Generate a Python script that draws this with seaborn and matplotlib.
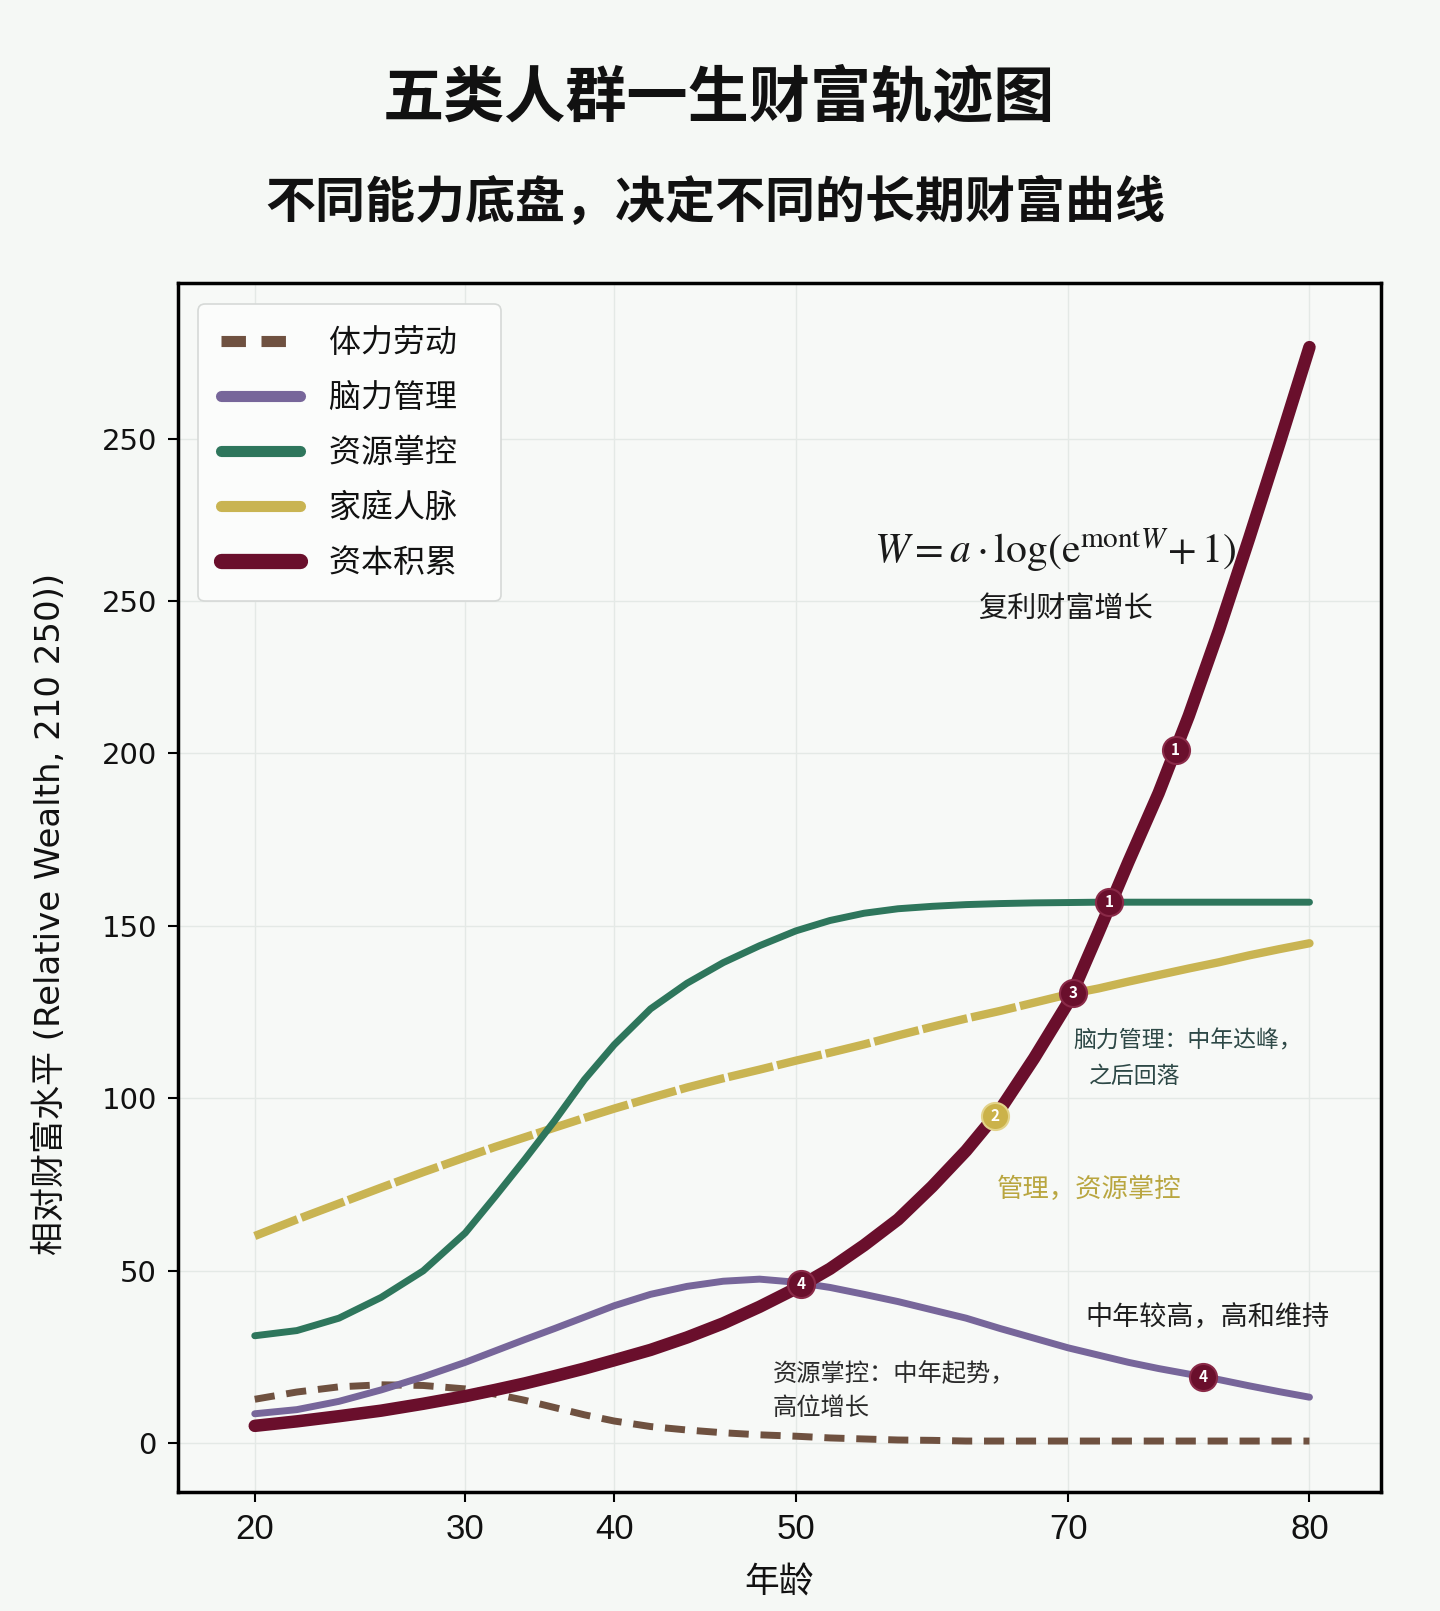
import numpy as np
import pandas as pd
import matplotlib.pyplot as plt
from matplotlib.lines import Line2D
import seaborn as sns

# ---- data ----
ages = [20, 22, 24, 26, 28, 30, 32, 34, 36, 38, 40, 42, 44, 46, 48, 50,
        52.5, 55, 57.5, 60, 62.5, 65, 67.5, 70,
        71.25, 72.5, 73.75, 75, 76.25, 77.5, 78.75, 80]
physical = [12.8, 14.9, 16.4, 17.0, 16.8, 15.8, 14.3, 12.5, 10.4, 8.3, 6.5, 4.9, 3.9, 3.1, 2.5, 2.1,
            1.6, 1.3, 1.0, 0.9, 0.7, 0.7, 0.7, 0.7,
            0.7, 0.7, 0.7, 0.7, 0.7, 0.7, 0.7, 0.7]
mental = [8.6, 9.8, 12.2, 15.5, 19.3, 23.5, 26.8, 30.1, 33.3, 36.6, 39.9, 43.2, 45.5, 47.0, 47.6, 46.7,
          45.2, 43.2, 41.1, 38.7, 36.3, 33.3, 30.5, 27.7,
          25.6, 23.5, 21.7, 20.1, 18.5, 16.7, 15.0, 13.4]
resource = [31.2, 32.7, 36.3, 42.3, 50.0, 61.0, 71.5, 82.3, 93.5, 105.4, 115.5, 125.9, 133.3, 139.3, 144.2, 148.5,
            151.5, 153.6, 154.9, 155.6, 156.1, 156.4, 156.6, 156.7,
            156.8, 156.8, 156.8, 156.8, 156.8, 156.8, 156.8, 156.8]
family = [60.1, 64.9, 69.5, 74.1, 78.6, 82.9, 85.9, 88.7, 91.5, 94.3, 97.0, 100.1, 103.1, 105.8, 108.3, 110.9,
          113.2, 115.6, 118.2, 120.7, 123.1, 125.3, 127.7, 130.1,
          131.8, 133.8, 135.7, 137.6, 139.4, 141.4, 143.2, 144.9]
capital = [5.1, 6.4, 7.9, 9.5, 11.5, 13.7, 15.5, 17.4, 19.5, 21.7, 24.1, 27.1, 30.7, 34.8, 39.6, 44.9,
           50.6, 57.4, 64.9, 74.4, 84.8, 96.7, 111.6, 127.7,
           147.9, 168.5, 188.4, 210.8, 235.6, 262.2, 289.6, 317.6]

labels = ['体力劳动', '脑力管理', '资源掌控', '家庭人脉', '资本积累']
colors = ['#6f5140', '#77669a', '#2e765c', '#c9b452', '#6a0f2c']

# numbered dots on the curves
marker_ages = [74.45, 71.7, 70.2, 50.4, 75.6]
marker_vals = [200.8, 156.8, 130.4, 46.1, 19.3]
marker_nums = ['1', '1', '3', '4', '4']
yellow_marker = (64.6, 94.9, '2')

x_ticks = [20, 30, 40, 50, 70, 80]
y_ticks = [0, 50, 100, 150, 200, 244, 291]
y_tick_labels = ['0', '50', '100', '150', '200', '250', '250']

# the age axis of the original is not evenly spaced
age_breaks = [0, 20, 30, 40, 50, 70, 80, 100]
axis_pos = [-162, 248, 453, 598, 775, 1040, 1275, 1745]


def fwd(a):
    return np.interp(a, age_breaks, axis_pos)


def inv(p):
    return np.interp(p, axis_pos, age_breaks)


sns.set_theme(style='white')
plt.rcParams['font.family'] = ['Noto Sans CJK SC', 'DejaVu Sans']
plt.rcParams['mathtext.fontset'] = 'stix'

bg = '#f5f8f5'
fig = plt.figure(figsize=(14.4, 16.11), dpi=100, facecolor=bg)
ax = fig.add_axes([0.1234, 0.0740, 0.8359, 0.7506], facecolor='#f7f9f7')
ax.set_xscale('function', functions=(fwd, inv))

df = pd.DataFrame({'age': ages, 'physical': physical, 'mental': mental,
                   'resource': resource, 'family': family, 'capital': capital})

sns.lineplot(data=df, x='age', y='physical', ax=ax, color=colors[0], lw=5,
             linestyle=(0, (2.9, 1.7)), zorder=3)
fam_a = df[df['age'] <= 70]
fam_b = df[df['age'] >= 70]
sns.lineplot(data=fam_a, x='age', y='family', ax=ax, color=colors[3], lw=6,
             linestyle=(0, (5.5, 0.5)), zorder=3)
sns.lineplot(data=fam_b, x='age', y='family', ax=ax, color=colors[3], lw=6,
             solid_capstyle='round', zorder=3)
sns.lineplot(data=df, x='age', y='resource', ax=ax, color=colors[2], lw=5,
             solid_capstyle='round', zorder=4)
sns.lineplot(data=df, x='age', y='mental', ax=ax, color=colors[1], lw=5,
             solid_capstyle='round', zorder=4)
sns.lineplot(data=df, x='age', y='capital', ax=ax, color=colors[4], lw=9,
             solid_capstyle='round', zorder=5)

# numbered markers
ax.scatter(marker_ages, marker_vals, s=380, color='#6a0f2c', edgecolor='#8a2a48',
           linewidth=1.5, zorder=6)
for a, v, t in zip(marker_ages, marker_vals, marker_nums):
    ax.text(a, v, t, color='white', fontsize=11, fontweight='bold',
            ha='center', va='center', zorder=7)
ax.scatter([yellow_marker[0]], [yellow_marker[1]], s=380, color='#cbb24a',
           edgecolor='#e3d38a', linewidth=1.5, zorder=6)
ax.text(yellow_marker[0], yellow_marker[1], yellow_marker[2], color='white',
        fontsize=11, fontweight='bold', ha='center', va='center', zorder=7)

ax.set_xlim(16.34, 82.98)
ax.set_ylim(-14, 336.3)
ax.set_xticks(x_ticks)
ax.set_xticklabels([str(t) for t in x_ticks])
ax.set_yticks(y_ticks)
ax.set_yticklabels(y_tick_labels)
ax.grid(True, color='#e4e9e6', lw=1)
ax.tick_params(axis='both', which='major', length=7, width=1.5, color='black',
               labelcolor='#111111', direction='out', pad=8, left=True, bottom=True)
ax.tick_params(axis='y', labelsize=21, labelfontfamily='DejaVu Sans')
ax.tick_params(axis='x', labelsize=25, labelfontfamily='Liberation Sans')
for s in ax.spines.values():
    s.set_color('black')
    s.set_linewidth(2.5)

ax.set_xlabel('年龄', fontsize=25, labelpad=14, color='#111111')
ax.set_ylabel('相对财富水平 (Relative Wealth, 210 250))', fontsize=24.5,
              family=['DejaVu Sans', 'Noto Sans CJK SC'], color='#111111')
ax.yaxis.set_label_coords(-0.092, 0.4775)

# legend
handles = [
    Line2D([0], [0], color=colors[0], lw=8, linestyle=(0, (2.2, 1.4))),
    Line2D([0], [0], color=colors[1], lw=8, solid_capstyle='round'),
    Line2D([0], [0], color=colors[2], lw=8, solid_capstyle='round'),
    Line2D([0], [0], color=colors[3], lw=8, solid_capstyle='round'),
    Line2D([0], [0], color=colors[4], lw=11, solid_capstyle='round'),
]
leg = ax.legend(handles=handles, labels=[l + '   ' for l in labels], loc='upper left',
                bbox_to_anchor=(0.017, 0.982), borderaxespad=0, fontsize=23,
                handlelength=2.5, handletextpad=0.9, labelspacing=0.72,
                borderpad=0.7, frameon=True, fancybox=True, framealpha=1)
leg.get_frame().set_facecolor('#fbfcfb')
leg.get_frame().set_edgecolor('#d6d9d7')
leg.get_frame().set_linewidth(1.2)
for t in leg.get_texts():
    t.set_color('#111111')

# titles
fig.text(0.4993, 0.9381, '五类人群一生财富轨迹图', fontsize=44, fontweight='bold',
         ha='center', va='center', color='#111111')
fig.text(0.497, 0.8737, '不同能力底盘，决定不同的长期财富曲线', fontsize=36,
         fontweight='bold', ha='center', va='center', color='#111111')

# annotations
fig.text(0.7325, 0.6588, r'$W = a\cdot\log(\mathrm{e}^{\mathrm{mont}W}\!+1)$',
         fontsize=30, ha='center', va='center', color='#1a1a1a')
fig.text(0.7397, 0.6218, '复利财富增长', fontsize=21, ha='center', va='center',
         color='#1a1a1a')
fig.text(0.7454, 0.354, '脑力管理：中年达峰，', fontsize=16.5, ha='left', va='center',
         color='#2d4846')
fig.text(0.756, 0.3316, '之后回落', fontsize=16.5, ha='left', va='center',
         color='#2d4846')
fig.text(0.6919, 0.2615, '管理，资源掌控', fontsize=19, ha='left', va='center',
         color='#b9a640')
fig.text(0.7539, 0.1818, '中年较高，高和维持', fontsize=19.5, ha='left', va='center',
         color='#1e1e1e')
fig.text(0.5364, 0.1473, '资源掌控：中年起势，', fontsize=17.5, ha='left', va='center',
         color='#2b2b2b')
fig.text(0.5364, 0.1263, '高位增长', fontsize=17.5, ha='left', va='center',
         color='#2b2b2b')

fig.savefig('out.png', dpi=100, facecolor=bg)
